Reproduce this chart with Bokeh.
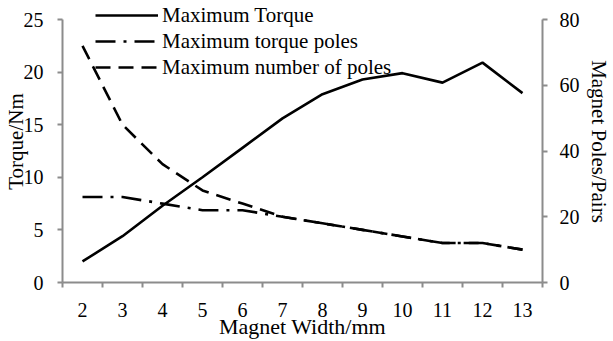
from bokeh.plotting import figure
from bokeh.models import Range1d, LinearAxis, FixedTicker, Legend, LegendItem
from bokeh.embed import file_html
from bokeh.resources import INLINE

# ---- data ----
widths = [2, 3, 4, 5, 6, 7, 8, 9, 10, 11, 12, 13]
torque = [2.0, 4.4, 7.3, 10.0, 12.8, 15.6, 17.9, 19.3, 19.9, 19.0, 20.9, 18.0]
torque_poles = [26, 26, 24, 22, 22, 20, 18, 16, 14, 12, 12, 10]
max_poles = [72, 48, 36, 28, 24, 20, 18, 16, 14, 12, 12, 10]
left_ticks = [0, 5, 10, 15, 20, 25]
right_ticks = [0, 20, 40, 60, 80]
x_minor = [w - 0.5 for w in widths] + [widths[-1] + 0.5]
series_names = ["Maximum Torque", "Maximum torque poles", "Maximum number of poles"]

FONT = "Liberation Serif"
AX = "#8c8c8c"

W, H = 613, 341
FRAME_BOTTOM = 282   # canvas y of value 0
TOP_VAL_Y = 19       # canvas y of value 25 / 80
left_top = 25 * FRAME_BOTTOM / (FRAME_BOTTOM - TOP_VAL_Y)
right_top = 80 * FRAME_BOTTOM / (FRAME_BOTTOM - TOP_VAL_Y)

p = figure(width=W, height=H, output_backend="svg", toolbar_location=None,
           x_range=Range1d(1.5, 13.5), y_range=Range1d(0, left_top),
           min_border_left=62, min_border_right=W - 546, min_border_top=0,
           min_border_bottom=H - FRAME_BOTTOM)
p.extra_y_ranges = {"right": Range1d(0, right_top)}
p.outline_line_color = None
p.xgrid.visible = False
p.ygrid.visible = False

def style_axis(a, standoff):
    a.axis_line_color = AX
    a.axis_line_width = 2
    a.major_tick_line_color = AX
    a.major_tick_line_width = 2
    a.minor_tick_line_color = AX
    a.minor_tick_line_width = 2
    a.major_label_text_font = FONT
    a.major_label_text_font_size = "20px"
    a.major_label_text_color = "black"
    a.major_label_standoff = standoff
    a.axis_label_text_font = FONT
    a.axis_label_text_font_size = "21px"
    a.axis_label_text_font_style = "normal"
    a.axis_label_text_color = "black"

# x axis
xa = p.xaxis[0]
style_axis(xa, 15)
xa.ticker = FixedTicker(ticks=widths, minor_ticks=x_minor)
xa.major_tick_in = 0
xa.major_tick_out = 0
xa.minor_tick_in = 0
xa.minor_tick_out = 5
xa.axis_label = "Magnet Width/mm"
xa.axis_label_text_font_size = "22px"
xa.axis_label_standoff = -6

# left axis
ya = p.yaxis[0]
style_axis(ya, 14)
ya.ticker = FixedTicker(ticks=left_ticks)
ya.bounds = (0, 25)
ya.minor_tick_line_color = None
ya.major_tick_in = 0
ya.major_tick_out = 5
ya.axis_label = "Torque/Nm"
ya.axis_label_standoff = -7

# right axis
ra = LinearAxis(y_range_name="right", ticker=FixedTicker(ticks=right_ticks))
style_axis(ra, 12)
ra.bounds = (0, 80)
ra.minor_tick_line_color = None
ra.major_tick_in = 0
ra.major_tick_out = 5
ra.axis_label = "Magnet Poles/Pairs"
ra.axis_label_standoff = 4
p.add_layout(ra, "right")

# lines
r1 = p.line(widths, torque, line_width=2.6, line_color="black")
r2 = p.line(widths, torque_poles, y_range_name="right", line_width=2.6,
            line_color="black", line_dash="20 8 3 8")
r3 = p.line(widths, max_poles, y_range_name="right", line_width=2.6,
            line_color="black", line_dash="15 8")

legend = Legend(items=[LegendItem(label=series_names[0], renderers=[r1]),
                       LegendItem(label=series_names[1], renderers=[r2]),
                       LegendItem(label=series_names[2], renderers=[r3])],
                location=(33, FRAME_BOTTOM - 80), padding=0, margin=0, spacing=0,
                glyph_width=63, glyph_height=26, label_height=26, label_standoff=4,
                label_text_font=FONT, label_text_font_size="21px", label_text_color="black",
                border_line_alpha=0, background_fill_alpha=0)
p.add_layout(legend)

open("out.html", "w").write(file_html(p, INLINE))
